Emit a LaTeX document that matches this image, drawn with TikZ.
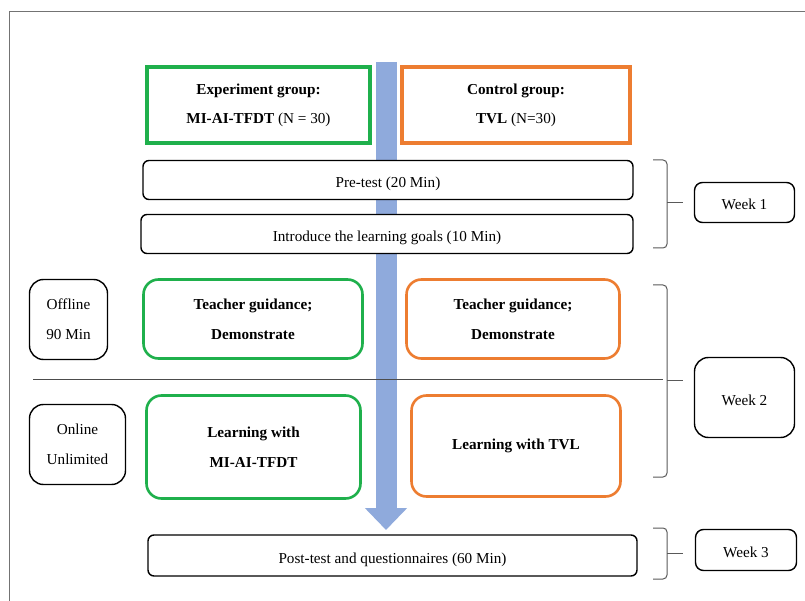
\documentclass[tikz,border=0pt]{standalone}
\usepackage{fontspec}
\setmainfont{Liberation Serif}
\usetikzlibrary{arrows.meta}
\definecolor{expgreen}{HTML}{1FB04C}
\definecolor{ctrlorange}{HTML}{ED7D31}
\definecolor{flowblue}{HTML}{8FAADC}
\tikzset{
  box/.style={draw, fill=white, align=center, inner sep=0pt, font=\fontsize{15.2}{18}\selectfont},
  groupbox/.style={box, line width=3.8pt},
  stepbox/.style={box, rounded corners=6pt, line width=1.4pt, text height=15pt, text depth=0pt},
  phasebox/.style={box, rounded corners=15pt, line width=2.6pt},
  modebox/.style={box, rounded corners=14pt, line width=1.4pt},
  weekbox/.style={box, rounded corners=8pt, line width=1.4pt, text height=15pt, text depth=0pt},
}
\begin{document}
\begin{tikzpicture}[x=1pt,y=-1pt]
        \useasboundingbox (0,0) rectangle (805,601);
        % frame
        \draw[black!55, line width=1pt] (9.5,601) -- (9.5,12) -- (805,12);
        % flow arrow
        \coordinate (flowtop) at (386,62);
        \coordinate (flowtip) at (386,530);
        \draw[flowblue, line width=21pt, -{Triangle[width=41pt,length=22pt]}] (flowtop) -- (flowtip);
        % groups
        \node[groupbox, draw=expgreen, minimum width=223pt, minimum height=76pt] (exp) at (258.5,105)
                {\textbf{Experiment group:}\\[11pt]\textbf{MI-AI-TFDT} (N = 30)};
        \node[groupbox, draw=ctrlorange, minimum width=228pt, minimum height=76pt] (ctrl) at (516,105)
                {\textbf{Control group:}\\[11pt]\textbf{TVL} (N=30)};
        % week 1
        \node[stepbox, minimum width=490pt, minimum height=39pt] (pre) at (388,180) {Pre-test (20 Min)};
        \node[stepbox, minimum width=492pt, minimum height=39pt] (intro) at (387,234) {Introduce the learning goals (10 Min)};
        % week 2
        \draw[black!70, line width=0.8pt] (33,379) -- (663,379);
        \node[modebox, minimum width=78pt, minimum height=80pt] (offline) at (68.5,319.5) {Offline\\[12pt]90 Min};
        \node[phasebox, draw=expgreen, minimum width=219pt, minimum height=79pt] (guideA) at (253,319)
                {\textbf{Teacher guidance;}\\[12pt]\textbf{Demonstrate}};
        \node[phasebox, draw=ctrlorange, minimum width=213pt, minimum height=79pt] (guideB) at (513,319)
                {\textbf{Teacher guidance;}\\[12pt]\textbf{Demonstrate}};
        \node[modebox, minimum width=96pt, minimum height=80pt] (online) at (77.5,444.5) {Online\\[12pt]Unlimited};
        \node[phasebox, draw=expgreen, minimum width=214pt, minimum height=103pt] (learnA) at (253.5,447)
                {\textbf{Learning with}\\[12pt]\textbf{MI-AI-TFDT}};
        \node[phasebox, draw=ctrlorange, minimum width=209pt, minimum height=101pt] (learnB) at (516,446)
                {\textbf{Learning with TVL}};
        % week 3
        \node[stepbox, minimum width=489pt, minimum height=41pt] (post) at (392.5,555.5) {Post-test and questionnaires (60 Min)};
        % braces and weeks
        \foreach \t/\m/\b in {160/203/248, 285/380/477, 528/553/579} {
                \draw[black!65, line width=1pt, rounded corners=4pt] (653,\t) -| (667,\m) |- (653,\b);
                \draw[black!65, line width=1pt] (667,\m) -- (683,\m);
            }
        \node[weekbox, minimum width=100pt, minimum height=40pt] (wk1) at (744.5,202.5) {Week 1};
        \node[weekbox, rounded corners=14pt, minimum width=100pt, minimum height=80pt] (wk2) at (744.5,397.5) {Week 2};
        \node[weekbox, minimum width=101pt, minimum height=41pt] (wk3) at (746,550) {Week 3};
    \end{tikzpicture}
\end{document}
